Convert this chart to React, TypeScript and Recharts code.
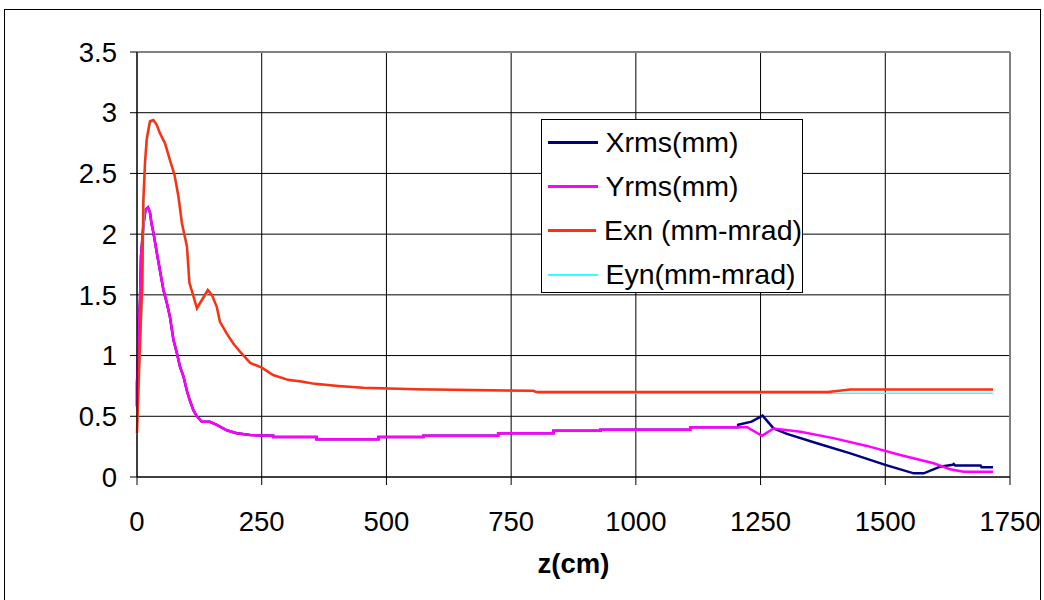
import { LineChart, Line, XAxis, YAxis, CartesianGrid, ReferenceLine, Legend, Label } from 'recharts';

const FONT = '"Liberation Sans", Arial, sans-serif';

const xTicks = [0, 250, 500, 750, 1000, 1250, 1500, 1750];
const yTicks = [0, 0.5, 1, 1.5, 2, 2.5, 3, 3.5];

// Xrms and Yrms coincide up to ~1200 cm
const zRms = [0, 0, 2, 3, 6, 8, 13, 17, 22, 26, 29, 33, 40, 46, 53, 60, 66, 73, 80, 86, 93, 100, 106, 113, 120, 130, 146, 160, 180, 200, 227, 273, 273, 360, 360, 484, 484, 574, 574, 724, 724, 835, 835, 929, 929, 1109, 1109, 1205];
const rms = [0.58, 0.77, 0.99, 1.24, 1.45, 1.82, 2.08, 2.2, 2.22, 2.18, 2.09, 2.01, 1.84, 1.7, 1.54, 1.43, 1.32, 1.13, 1.02, 0.91, 0.83, 0.71, 0.63, 0.55, 0.5, 0.455, 0.455, 0.43, 0.385, 0.36, 0.345, 0.34, 0.33, 0.33, 0.31, 0.31, 0.33, 0.33, 0.34, 0.34, 0.36, 0.36, 0.38, 0.38, 0.39, 0.39, 0.41, 0.41];

const zXrmsTail = [1205, 1232, 1254, 1276, 1303, 1363, 1430, 1500, 1557, 1577, 1610, 1635, 1637, 1640, 1691, 1693, 1716];
const xrmsTail = [0.43, 0.456, 0.505, 0.4, 0.355, 0.278, 0.195, 0.1, 0.03, 0.03, 0.085, 0.1, 0.107, 0.095, 0.095, 0.08, 0.08];

const zYrmsTail = [1223, 1253, 1276, 1330, 1396, 1463, 1530, 1597, 1630, 1657, 1716];
const yrmsTail = [0.41, 0.34, 0.4, 0.373, 0.32, 0.256, 0.181, 0.113, 0.063, 0.044, 0.044];

const zExn = [0, 6, 10.6, 12.7, 16, 19.4, 22.7, 26, 32.7, 39.5, 46, 56, 66, 75, 83, 90, 100, 105, 113, 120, 142, 150, 160, 166, 180, 193, 207, 227, 250, 273, 303, 330, 357, 404, 454, 561, 795, 800, 1385, 1430, 1716];
const exn = [0.36, 1.1, 1.6, 2.28, 2.59, 2.78, 2.86, 2.93, 2.94, 2.9, 2.83, 2.75, 2.61, 2.49, 2.31, 2.09, 1.9, 1.6, 1.49, 1.39, 1.54, 1.5, 1.4, 1.28, 1.18, 1.1, 1.03, 0.94, 0.9, 0.84, 0.8, 0.786, 0.767, 0.75, 0.736, 0.723, 0.71, 0.7, 0.7, 0.72, 0.72];

const zEyn = [0, 7, 12, 14, 17, 20.5, 24, 27.5, 34, 41, 47.5, 57.5, 67.5, 76.5, 84.5, 91.5, 101.5, 106.5, 114.5, 121.5, 143.5, 151.5, 161.5, 167.5, 181.5, 194.5, 208.5, 228.5, 251.5, 274.5, 304.5, 331.5, 358.5, 405.5, 455.5, 562.5, 795, 805, 1716];
const eyn = [0.35, 1.08, 1.58, 2.26, 2.57, 2.77, 2.85, 2.92, 2.93, 2.89, 2.82, 2.74, 2.6, 2.48, 2.3, 2.08, 1.89, 1.59, 1.48, 1.38, 1.53, 1.49, 1.39, 1.27, 1.17, 1.09, 1.02, 0.935, 0.895, 0.835, 0.795, 0.78, 0.762, 0.745, 0.731, 0.718, 0.705, 0.69, 0.69];

const toPoints = (z: number[], v: number[]) => z.map((zz, i) => ({ z: zz, v: v[i] }));

const xrmsSeries = { name: 'Xrms(mm)', color: '#000080', width: 2.5, key: 1, data: toPoints([...zRms, ...zXrmsTail], [...rms, ...xrmsTail]) };
const yrmsSeries = { name: 'Yrms(mm)', color: '#FF00FF', width: 2.5, key: 2, data: toPoints([...zRms, ...zYrmsTail], [...rms, ...yrmsTail]) };
const exnSeries = { name: 'Exn (mm-mrad)', color: '#FF3010', width: 2.5, key: 3, data: toPoints(zExn, exn) };
const eynSeries = { name: 'Eyn(mm-mrad)', color: '#33FFFF', width: 1.5, key: 4, data: toPoints(zEyn, eyn) };

const legendOrder = [xrmsSeries, yrmsSeries, exnSeries, eynSeries];
const drawOrder = [xrmsSeries, yrmsSeries, eynSeries, exnSeries];

function LegendBox() {
  return (
    <div
      style={{
        width: 262,
        height: 174,
        border: '1.5px solid #000',
        background: '#fff',
        boxSizing: 'border-box',
        fontFamily: FONT,
        fontSize: 28.5,
        color: '#000',
        lineHeight: 1,
        paddingTop: 0.5,
      }}
    >
      {legendOrder.map((s) => (
        <div key={s.key} style={{ display: 'flex', alignItems: 'center', height: 44, whiteSpace: 'nowrap' }}>
          <span
            style={{
              display: 'inline-block',
              width: 50,
              height: s.width > 2 ? 3 : 2,
              background: s.color,
              marginLeft: 5.5,
              marginRight: 8,
            }}
          />
          <span>{s.name}</span>
        </div>
      ))}
    </div>
  );
}

const tickStyle = { fontFamily: FONT, fontSize: 27.5, fill: '#000' };

export default function App() {
  return (
    <div style={{ position: 'absolute', left: 0, top: 0, width: 1044, height: 600, overflow: 'hidden', background: '#fff' }}>
      <div
        style={{
          position: 'absolute',
          left: 4,
          top: 9,
          width: 1037,
          height: 640,
          border: '1.5px solid #000',
          boxSizing: 'border-box',
        }}
      />
      <div style={{ position: 'absolute', left: 0, top: 0 }}>
        <LineChart width={1044} height={600} margin={{ top: 52, right: 34, bottom: 0, left: 0 }}>
          <CartesianGrid stroke="#000" strokeWidth={1} horizontalValues={yTicks} verticalValues={xTicks} />
          <XAxis
            type="number"
            dataKey="z"
            domain={[0, 1750]}
            ticks={xTicks}
            interval={0}
            height={123}
            tickSize={8}
            tickMargin={26}
            tick={tickStyle}
            stroke="#000"
            tickLine={{ stroke: '#000' }}
            axisLine={{ stroke: '#000' }}
          >
            <Label value="z(cm)" position="insideBottom" offset={27} fontSize={27.5} fontWeight="bold" fontFamily={FONT} fill="#000" />
          </XAxis>
          <YAxis
            type="number"
            domain={[0, 3.5]}
            ticks={yTicks}
            interval={0}
            width={137}
            tickSize={7}
            tickMargin={13}
            tick={tickStyle}
            tickLine={{ stroke: '#000' }}
            axisLine={{ stroke: '#000' }}
          />
          <ReferenceLine y={3.5} stroke="#808080" strokeWidth={2} />
          <ReferenceLine x={1750} stroke="#808080" strokeWidth={2} />
          {drawOrder.map((s) => (
            <Line
              key={s.key}
              data={s.data}
              dataKey="v"
              name={s.name}
              type="linear"
              stroke={s.color}
              strokeWidth={s.width}
              dot={false}
              activeDot={false}
              isAnimationActive={false}
            />
          ))}
          <Legend
            layout="vertical"
            align="center"
            verticalAlign="middle"
            wrapperStyle={{ left: 541, top: 119, width: 262, height: 174 }}
            content={() => <LegendBox />}
          />
        </LineChart>
      </div>
    </div>
  );
}
